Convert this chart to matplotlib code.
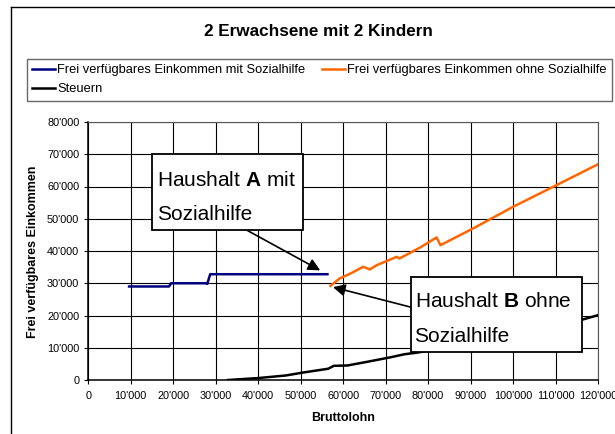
import matplotlib
matplotlib.use("Agg")
import matplotlib.pyplot as plt
from matplotlib.ticker import FuncFormatter, MultipleLocator
from matplotlib.lines import Line2D
from matplotlib.patches import Rectangle

plt.rcParams['font.family'] = ['Liberation Sans', 'DejaVu Sans']
plt.rcParams['mathtext.fontset'] = 'custom'
plt.rcParams['mathtext.rm'] = 'Liberation Sans'
plt.rcParams['mathtext.bf'] = 'Liberation Sans:bold'

# Frei verfuegbares Einkommen mit Sozialhilfe (Haushalt A)
mit_x = [9600, 19000, 19500, 27600, 28000, 28700, 56300]
mit_y = [29000, 29000, 30000, 30000, 29800, 32800, 32800]

# Frei verfuegbares Einkommen ohne Sozialhilfe (Haushalt B)
ohne_x = [57000, 59200, 62000, 64700, 66300, 67900, 72600, 73300, 78000, 82000,
          82900, 90600, 100000, 110200, 120000]
ohne_y = [29200, 31500, 33200, 35100, 34300, 35600, 38200, 37700, 41000, 44200,
          41800, 47000, 53700, 60400, 66900]

# Steuern
steuer_x = [32900, 40000, 46500, 50500, 56500, 57800, 61000, 65500, 71000, 74500,
            77500, 90000, 100000, 110000, 116000, 120000]
steuer_y = [0, 600, 1400, 2300, 3500, 4400, 4500, 5600, 7000, 8000,
            8500, 11500, 14000, 16700, 18600, 20100]

labels = ["Frei verfügbares Einkommen mit Sozialhilfe",
          "Frei verfügbares Einkommen ohne Sozialhilfe",
          "Steuern"]

W, H = 615, 434
fig = plt.figure(figsize=(W / 100, H / 100), dpi=100)
ax = fig.add_axes([88.3 / W, 1 - 380 / H, (598 - 88.3) / W, (380 - 122) / H])

l1, = ax.plot(mit_x, mit_y, color='#000080', lw=1.8)
l2, = ax.plot(ohne_x, ohne_y, color='#FF6600', lw=1.8)
l3, = ax.plot(steuer_x, steuer_y, color='black', lw=1.8)

ax.set_xlim(0, 120000)
ax.set_ylim(0, 80000)
ax.xaxis.set_major_locator(MultipleLocator(10000))
ax.yaxis.set_major_locator(MultipleLocator(10000))
fmt = FuncFormatter(lambda v, p: f"{int(v):,}".replace(",", "'"))
ax.xaxis.set_major_formatter(fmt)
ax.yaxis.set_major_formatter(fmt)
ax.grid(True, color='black', lw=0.8)
ax.set_axisbelow(True)
ax.tick_params(axis='both', labelsize=7.8, length=3, width=0.8, direction='out')
ax.tick_params(axis='x', pad=5)
ax.tick_params(axis='y', pad=3.5)
for s in ax.spines.values():
    s.set_color('#555555')
    s.set_linewidth(0.8)
ax.spines['left'].set_color('black')
ax.spines['bottom'].set_color('black')
ax.spines['left'].set_linewidth(1.1)
ax.spines['bottom'].set_linewidth(1.1)

ax.set_xlabel("Bruttolohn", fontsize=9, fontweight='bold', labelpad=8)
fig.text(33 / W, 1 - 252 / H, "Frei verfügbares Einkommen", rotation=90,
         fontsize=9, fontweight='bold', ha='center', va='center')

fig.text(318 / W, 1 - 32 / H, "2 Erwachsene mit 2 Kindern", fontsize=12.3,
         fontweight='bold', ha='center', va='center')

# outer chart frame (left and top edges visible)
fig.add_artist(Line2D([11 / W, 11 / W], [-0.1, 1 - 7 / H], color='black', lw=1,
                      transform=fig.transFigure))
fig.add_artist(Line2D([11 / W, 1.1], [1 - 7 / H, 1 - 7 / H], color='black', lw=1,
                      transform=fig.transFigure))

leg = fig.legend([l1, l3, l2], [labels[0], labels[2], labels[1]], ncol=2,
                 loc='upper left', bbox_to_anchor=(27 / W, 1 - 59 / H),
                 bbox_transform=fig.transFigure, borderaxespad=0, fontsize=9.3,
                 fancybox=False, frameon=True, handlelength=1.75,
                 handletextpad=0.2, columnspacing=1.3, labelspacing=0.55,
                 borderpad=0.4)
leg.get_frame().set_edgecolor('#444444')
leg.get_frame().set_linewidth(1.0)

# callout boxes
ax.add_patch(Rectangle((15000, 46400), 35500, 23600, fc='white', ec='black',
                       lw=1.3, zorder=5))
ax.text(16100, 60000, "Haushalt $\\mathbf{A}$ mit", fontsize=15, ha='left',
        va='baseline', zorder=6)
ax.text(16100, 49500, "Sozialhilfe", fontsize=15, ha='left', va='baseline', zorder=6)

ax.add_patch(Rectangle((75900, 8700), 40300, 23200, fc='white', ec='black',
                       lw=1.3, zorder=5))
ax.text(76800, 22700, "Haushalt $\\mathbf{B}$ ohne", fontsize=15, ha='left',
        va='baseline', zorder=6)
ax.text(76800, 11900, "Sozialhilfe", fontsize=15, ha='left', va='baseline', zorder=6)

arrow = dict(arrowstyle='-|>', color='black', lw=1.2, mutation_scale=18,
             shrinkA=0, shrinkB=0)
ax.annotate("", xy=(54600, 34000), xytext=(37400, 46400), arrowprops=arrow, zorder=6)
ax.annotate("", xy=(57600, 28800), xytext=(75900, 22600), arrowprops=arrow, zorder=6)

fig.savefig("out.png", dpi=100)
